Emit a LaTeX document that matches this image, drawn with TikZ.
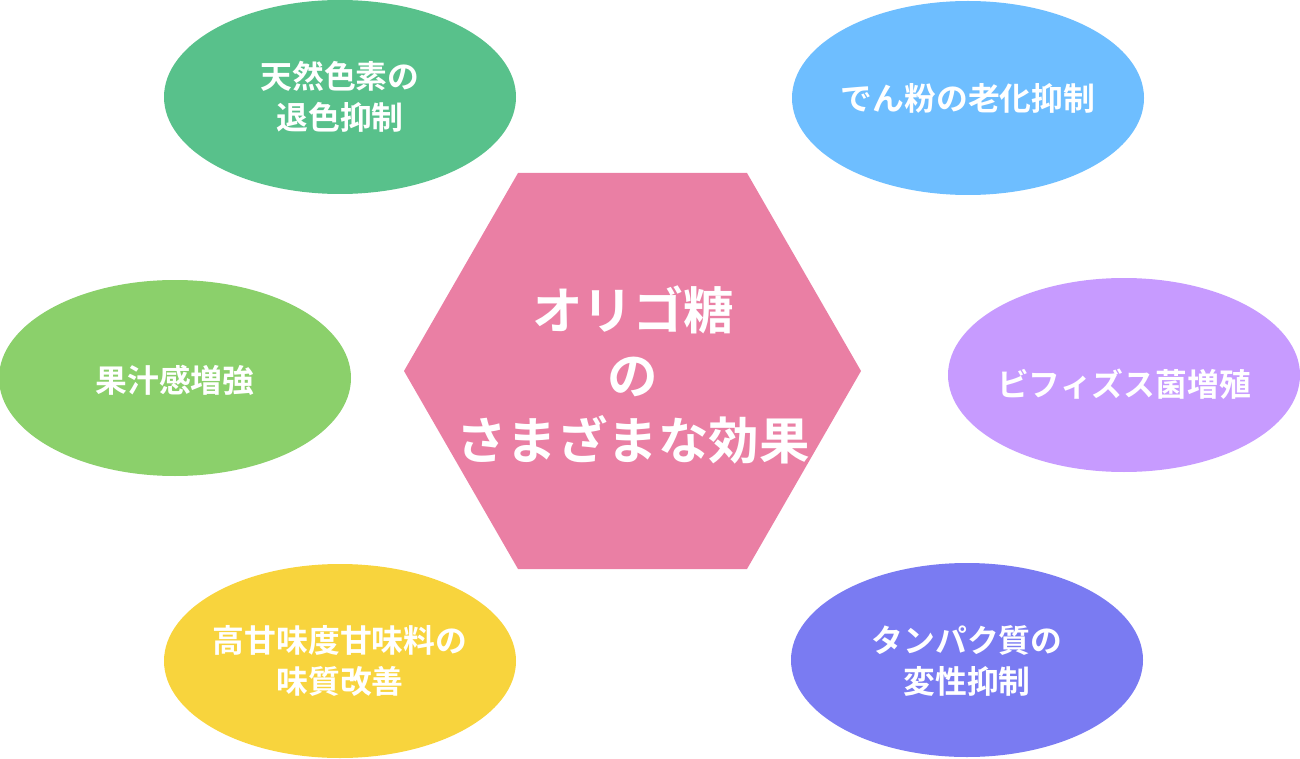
\documentclass[tikz,border=0pt]{standalone}
\usepackage{fontspec}
\setmainfont{Noto Sans CJK JP Bold}
\definecolor{cgreen}{HTML}{58C18B}
\definecolor{cblue}{HTML}{6EBEFF}
\definecolor{clgreen}{HTML}{8BD06B}
\definecolor{cpurple}{HTML}{C79BFF}
\definecolor{cyellow}{HTML}{F8D43D}
\definecolor{cindigo}{HTML}{7A7BF2}
\definecolor{cpink}{HTML}{EA7FA4}
\begin{document}
\begin{tikzpicture}[x=1pt,y=-1pt,
  otext/.style={text=white, font=\fontsize{31.8}{41}\selectfont, align=center, inner sep=0pt},
  htext/.style={text=white, font=\fontsize{50.5}{65}\selectfont, align=center, inner sep=0pt}]
\useasboundingbox (0,0) rectangle (1300,759);
\fill[cgreen] (340,97) ellipse [x radius=176, y radius=97];
\fill[cblue] (968,98) ellipse [x radius=176, y radius=97];
\fill[clgreen] (175,378) ellipse [x radius=176, y radius=98];
\fill[cpurple] (1124,375) ellipse [x radius=176, y radius=97];
\fill[cyellow] (340,661) ellipse [x radius=176, y radius=97];
\fill[cindigo] (967,660) ellipse [x radius=176, y radius=97];
\fill[cpink] (518,173) -- (747,173) -- (861,371) -- (747,569) -- (518,569) -- (404,371) -- cycle;
\node[htext] (center) at (633,375) {オリゴ糖\\の\\さまざまな効果};
\node[otext] (t1) at (340,97) {天然色素の\\退色抑制};
\node[otext] (t2) at (968,98) {でん粉の老化抑制};
\node[otext] (t3) at (175,380) {果汁感増強};
\node[otext] (t4) at (1124,384) {ビフィズス菌増殖};
\node[otext] (t5) at (340,661) {高甘味度甘味料の\\味質改善};
\node[otext] (t6) at (967,661) {タンパク質の\\変性抑制};
\end{tikzpicture}
\end{document}
